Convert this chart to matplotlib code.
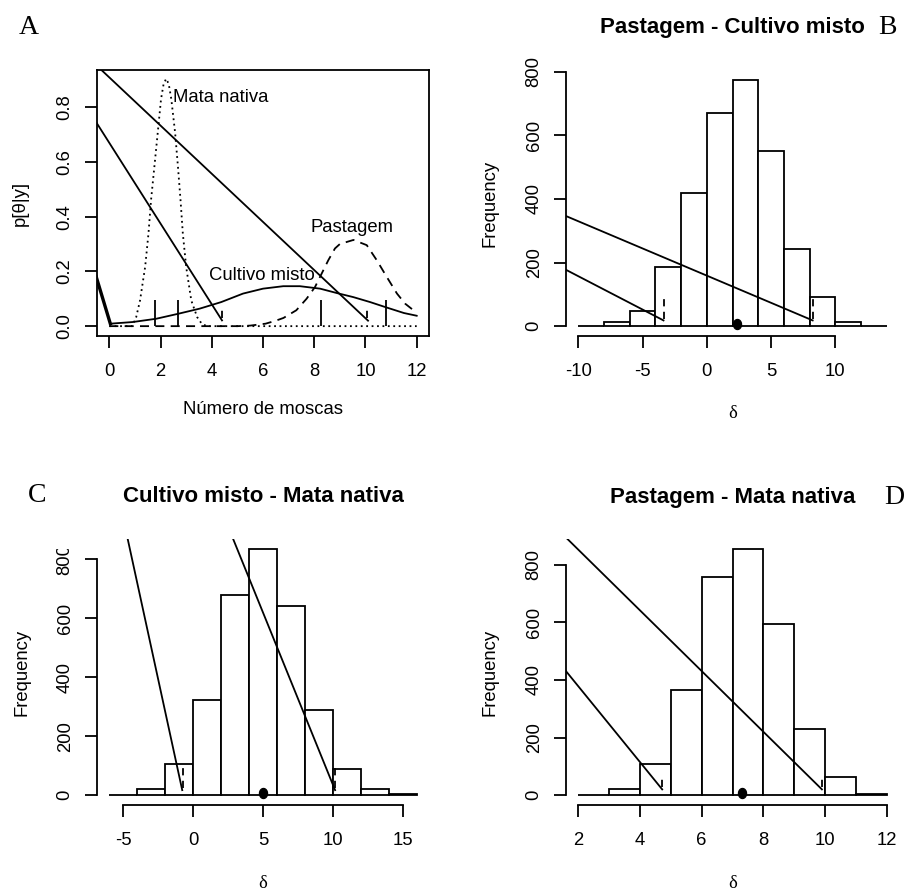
import numpy as np
import matplotlib
matplotlib.use("Agg")
import matplotlib.pyplot as plt
from matplotlib.path import Path
from matplotlib.transforms import Bbox, TransformedBbox

plt.rcParams['font.family'] = ['Liberation Sans', 'DejaVu Sans']
plt.rcParams['axes.unicode_minus'] = False

# ---- panel A: posterior densities ----
mata_x = [0.0, 0.9, 1.05, 1.2, 1.4, 1.53, 1.63, 1.76, 1.89, 2.02, 2.12, 2.22, 2.32,
          2.42, 2.57, 2.68, 2.78, 2.87, 3.0, 3.2, 3.43, 3.6, 3.8, 12.0]
mata_y = [0.0, 0.0, 0.033, 0.094, 0.217, 0.339, 0.461, 0.583, 0.706, 0.83, 0.885, 0.904, 0.885,
          0.83, 0.706, 0.583, 0.461, 0.339, 0.217, 0.094, 0.033, 0.01, 0.0, 0.0]

past_x = [0.0, 5.0, 5.5, 6.1, 6.5, 6.8, 7.3, 7.7, 8.03, 8.29, 8.55, 8.81, 9.0, 9.53,
          10.05, 10.44, 10.83, 11.23, 11.55, 11.82, 12.0]
past_y = [0.0, 0.0, 0.002, 0.009, 0.02, 0.03, 0.058, 0.1, 0.143, 0.192, 0.241, 0.284, 0.3, 0.315,
          0.296, 0.241, 0.18, 0.119, 0.082, 0.062, 0.05]

cult_x = [0.04, 0.91, 1.83, 2.68, 3.53, 4.37, 5.22, 6.0, 6.79, 7.44, 8.23, 8.88, 9.53,
          10.18, 10.83, 11.5, 12.0]
cult_y = [0.009, 0.015, 0.027, 0.045, 0.064, 0.088, 0.119, 0.137, 0.146, 0.146, 0.137, 0.121, 0.106,
          0.088, 0.068, 0.048, 0.038]

corner_x = [-0.51, 0.04]
corner_y = [0.18, 0.009]

a_seg_x = [1.79, 2.68, 8.27, 10.8]
a_seg_top = 0.094
a_dash_x = [4.4, 10.05]
a_dash_y = [0.03, 0.065]
a_line1_x, a_line1_y = [-0.33, 10.1], [0.938, 0.02]
a_line2_x, a_line2_y = [-0.51, 4.4], [0.745, 0.021]

a_labels = ["Mata nativa", "Pastagem", "Cultivo misto"]
a_label_x = [2.47, 9.49, 5.94]
a_label_y = [0.835, 0.36, 0.184]
a_label_ha = ['left', 'center', 'center']

# ---- panels B-D: histograms of differences ----
b_edges = [-10, -8, -6, -4, -2, 0, 2, 4, 6, 8, 10, 12, 14]
b_counts = [2, 12, 48, 185, 419, 669, 774, 550, 243, 93, 13, 2]
b_mean = 2.35
b_dash_x = [-3.37, 8.24]
b_dash_y = [23, 91]
b_lines = [([-10.96, 8.24], [346, 18]), ([-10.96, -3.37], [177, 18])]

c_edges = [-6, -4, -2, 0, 2, 4, 6, 8, 10, 12, 14, 16]
c_counts = [2, 20, 105, 323, 678, 835, 640, 290, 90, 20, 4]
c_mean = 5.0
c_dash_x = [-0.74, 10.16]
c_dash_y = [23, 93]
c_lines = [([-4.69, -0.78], [870, 17]), ([2.85, 10.16], [870, 17])]

d_edges = [2, 3, 4, 5, 6, 7, 8, 9, 10, 11, 12]
d_counts = [2, 20, 108, 365, 757, 854, 595, 229, 63, 3]
d_mean = 7.3
d_dash_x = [4.72, 9.9]
d_dash_y = [29, 58]
d_lines = [([1.64, 9.9], [890, 20]), ([1.55, 4.72], [437, 20])]

W, H = 907, 890
fig = plt.figure(figsize=(W / 100, H / 100), dpi=100)

LW = 1.3
TICK = dict(direction='out', length=8.3, width=LW, labelsize=13.3)


def px_axes(l, r, t, b):
    return fig.add_axes([l / W, 1 - b / H, (r - l) / W, (b - t) / H])


def ftext(x, y, s, **kw):
    return fig.text(x / W, 1 - y / H, s, ha='center', va='center', **kw)


def style_ticks(ax):
    ax.tick_params(**TICK)
    ax.tick_params(axis='x', pad=11)
    ax.tick_params(axis='y', labelrotation=90, pad=8.5)
    for lab in ax.get_yticklabels():
        lab.set_verticalalignment('center')


theta = np.linspace(0, 2 * np.pi, 41)
dot_marker = Path(np.column_stack([0.8 * np.cos(theta), np.sin(theta)]), closed=True)

# ---- A ----
axA = px_axes(97, 429, 70, 336)
axA.plot(mata_x, mata_y, color='black', lw=LW, linestyle=(0, (1, 2)))
axA.plot(past_x, past_y, color='black', lw=LW, linestyle=(0, (5, 3.5)))
axA.plot(cult_x, cult_y, color='black', lw=LW)
axA.plot(corner_x, corner_y, color='black', lw=2.4)
axA.vlines(a_seg_x, 0, a_seg_top, color='black', lw=LW)
axA.vlines(a_dash_x, a_dash_y[0], a_dash_y[1], color='black', lw=LW, linestyle=(0, (4, 3)))
axA.plot(a_line1_x, a_line1_y, color='black', lw=LW)
axA.plot(a_line2_x, a_line2_y, color='black', lw=LW)
for s, x, y, ha in zip(a_labels, a_label_x, a_label_y, a_label_ha):
    axA.text(x, y, s, ha=ha, va='center', fontsize=13.3)
axA.set_xlim(-0.48, 12.48)
axA.set_ylim(-0.036, 0.936)
axA.set_xticks([0, 2, 4, 6, 8, 10, 12])
axA.set_yticks([0.0, 0.2, 0.4, 0.6, 0.8])
axA.set_yticklabels(["0.0", "0.2", "0.4", "0.6", "0.8"])
style_ticks(axA)
for sp in axA.spines.values():
    sp.set_linewidth(LW)
ftext(20, 203, "p[θ|y]", rotation=90, fontsize=13.3)
ftext(263, 410, "Número de moscas", fontsize=13.3)
ftext(29, 27, "A", fontsize=20, family=['Liberation Serif', 'DejaVu Serif'])


def hist_panel(rect, edges, counts, mean, dash_x, dash_y, lines, xlim, ylim, xticks, title,
               letter, letter_xy, title_y, ylab_x):
    ax = px_axes(*rect)
    ax.bar(edges[:-1], counts, width=np.diff(edges), align='edge', color='white',
           edgecolor='black', linewidth=LW, zorder=2)
    for lx, ly in lines:
        ax.plot(lx, ly, color='black', lw=LW, zorder=3)
    ax.vlines(dash_x, dash_y[0], dash_y[1], color='black', lw=LW, linestyle=(0, (4, 3)), zorder=3)
    ax.plot([mean], [7], marker=dot_marker, markersize=7.2, color='black', zorder=4,
            clip_on=False)
    ax.set_xlim(*xlim)
    ax.set_ylim(*ylim)
    ax.set_xticks(xticks)
    ax.set_yticks([0, 200, 400, 600, 800])
    style_ticks(ax)
    for side in ['top', 'right']:
        ax.spines[side].set_visible(False)
    ax.spines['left'].set_bounds(0, 800)
    ax.spines['bottom'].set_bounds(xticks[0], xticks[-1])
    for side in ['left', 'bottom']:
        ax.spines[side].set_linewidth(LW)
    l, r, t, b = rect
    cx = (l + r) / 2
    ftext(cx, title_y, title, fontsize=16, fontweight='bold')
    ftext(ylab_x, (t + b) / 2, "Frequency", rotation=90, fontsize=13.3)
    ftext(cx, b + 78, "δ", fontsize=13.3, family=['Liberation Serif', 'DejaVu Serif'])
    ftext(letter_xy[0], letter_xy[1], letter, fontsize=20,
          family=['Liberation Serif', 'DejaVu Serif'])
    return ax


hist_panel((566, 899, 70, 336), b_edges, b_counts, b_mean, b_dash_x, b_dash_y, b_lines,
           (-10.96, 14.96), (-31, 805), [-10, -5, 0, 5, 10], "Pastagem - Cultivo misto",
           "B", (887, 27), 27.5, 490)
axC = hist_panel((97, 429, 539, 805), c_edges, c_counts, c_mean, c_dash_x, c_dash_y, c_lines,
                 (-6.88, 16.88), (-33.4, 868.4), [-5, 0, 5, 10, 15], "Cultivo misto - Mata nativa",
                 "C", (37, 495), 497, 21.7)
hist_panel((566, 899, 539, 805), d_edges, d_counts, d_mean, d_dash_x, d_dash_y, d_lines,
           (1.6, 12.4), (-34.2, 889.2), [2, 4, 6, 8, 10, 12], "Pastagem - Mata nativa",
           "D", (894, 497), 497, 490)

# the top tick label of C is cut off in the original
clip = TransformedBbox(Bbox([[0, 0], [1, 1 - 549 / H]]), fig.transFigure)
for lab in axC.get_yticklabels():
    lab.set_clip_box(clip)
    lab.set_clip_on(True)

fig.savefig("out.png", dpi=100)
